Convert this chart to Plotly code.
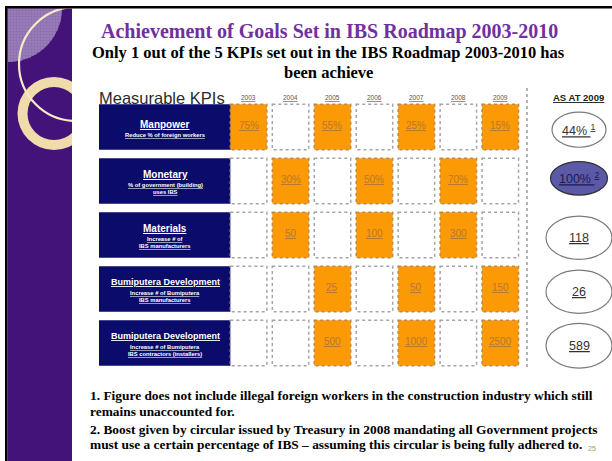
import math
import plotly.graph_objects as go

W, H = 612, 461

# ---------------- data ----------------
years = ["2003", "2004", "2005", "2006", "2007", "2008", "2009"]
kpi_titles = ["Manpower", "Monetary", "Materials",
              "Bumiputera Development", "Bumiputera Development"]
kpi_subtitles = [["Reduce % of foreign workers"],
                 ["% of government (building)", "uses IBS"],
                 ["Increase # of", "IBS manufacturers"],
                 ["Increase # of Bumiputera", "IBS manufacturers"],
                 ["Increase # of Bumiputera", "IBS contractors (installers)"]]
targets = [
    ["75%", "", "55%", "", "25%", "", "15%"],
    ["", "30%", "", "50%", "", "70%", ""],
    ["", "50", "", "100", "", "300", ""],
    ["", "", "25", "", "50", "", "150"],
    ["", "", "500", "", "1000", "", "2500"],
]
actual_2009 = ["44%", "100%", "118", "26", "589"]
actual_notes = ["1", "2", "", "", ""]

title = "Achievement of Goals Set in IBS Roadmap 2003-2010"
subtitle_lines = ["Only 1 out of the 5 KPIs set out in the IBS Roadmap 2003-2010 has",
                  "been achieve"]
footnotes = [
    "1. Figure does not include illegal foreign workers in the construction industry which still",
    "remains unaccounted for.",
    "2. Boost given by circular issued by Treasury in 2008 mandating all Government projects",
    "must use a certain percentage of IBS \u2013 assuming this circular is being fully adhered to.",
]
page_number = "25"

# ---------------- helpers ----------------
def px(x):
    return x / W

def py(y):
    return 1 - y / H

SANS = "Liberation Sans, Arial, sans-serif"
SERIF = "Liberation Serif, Times New Roman, serif"
ORANGE = "#fb9a05"
NAVY = "#0b0b6b"
PURPLE = "#44137a"

fig = go.Figure()
# invisible traces to create both subplots
fig.add_trace(go.Scatter(x=[0], y=[0], xaxis="x", yaxis="y", mode="markers",
                         marker=dict(opacity=0), hoverinfo="skip", showlegend=False))
fig.add_trace(go.Scatter(x=[30], y=[30], xaxis="x2", yaxis="y2", mode="markers",
                         marker=dict(opacity=0), hoverinfo="skip", showlegend=False))

shapes = []
ann = []

# ---------------- left decoration strip (pixel coordinates on x2/y2) ----------------
shapes.append(dict(type="rect", xref="x2", yref="y2", x0=0, x1=80, y0=0, y1=470,
                   fillcolor=PURPLE, line=dict(width=0), layer="below"))
# checkered quarter-disc patch in the corner
pr = 54
pts = []
n = 30
for k in range(n + 1):
    a = (math.pi / 2) * k / n
    pts.append((8 + pr * math.cos(a), 8 + pr * math.sin(a)))
path = "M 7,7 L 62,7 " + " ".join(f"L {x:.2f},{y:.2f}" for x, y in pts) + " L 7,62 Z"
shapes.append(dict(type="path", xref="x2", yref="y2", path=path,
                   fillcolor="#8a6dab", line=dict(width=0), layer="below"))
for k in range(9, 62, 3):
    h = math.sqrt(max(pr ** 2 - (k - 8) ** 2, 0))
    shapes.append(dict(type="line", xref="x2", yref="y2", x0=k, x1=k, y0=8, y1=8 + h,
                       line=dict(color="#a58cc2", width=0.6), layer="below"))
    shapes.append(dict(type="line", xref="x2", yref="y2", x0=8, x1=8 + h, y0=k, y1=k,
                       line=dict(color="#a58cc2", width=0.6), layer="below"))
# thick ring
shapes.append(dict(type="circle", xref="x2", yref="y2", x0=54 - 36.5, x1=54 + 36.5,
                   y0=113.5 - 36.5, y1=113.5 + 36.5, fillcolor="#f0dcaa",
                   line=dict(width=0), layer="below"))
shapes.append(dict(type="circle", xref="x2", yref="y2", x0=54 - 26.5, x1=54 + 26.5,
                   y0=113.5 - 26.5, y1=113.5 + 26.5, fillcolor=PURPLE,
                   line=dict(width=0), layer="below"))
# thin circle
cx, cy, r = 76, 64, 57
shapes.append(dict(type="circle", xref="x2", yref="y2", x0=cx - r, x1=cx + r,
                   y0=cy - r, y1=cy + r, line=dict(color="#f6e9c8", width=2.2),
                   layer="below"))

# black frame lines
shapes.append(dict(type="rect", xref="paper", yref="paper", x0=px(5), x1=px(7.5),
                   y0=0, y1=py(6), fillcolor="black", line=dict(width=0)))
shapes.append(dict(type="rect", xref="paper", yref="paper", x0=px(5), x1=1,
                   y0=py(8.5), y1=py(6), fillcolor="black", line=dict(width=0)))

# ---------------- titles ----------------
ann.append(dict(text=f"<b>{title}</b>", xref="paper", yref="paper", x=px(329), y=py(32),
                showarrow=False, font=dict(family=SERIF, size=20, color="#7030a0"),
                xanchor="center", yanchor="middle"))
for k, line in enumerate(subtitle_lines):
    ann.append(dict(text=f"<b>{line}</b>", xref="paper", yref="paper", x=px(328),
                    y=py(53 + 19 * k), showarrow=False,
                    font=dict(family=SERIF, size=16.5, color="black"),
                    xanchor="center", yanchor="middle"))

# ---------------- table header ----------------
ann.append(dict(text="Measurable KPIs", xref="paper", yref="paper", x=px(97), y=py(98),
                showarrow=False, font=dict(family=SANS, size=16.5, color="#2b2b2b"),
                xanchor="left", yanchor="middle"))
for i, yr in enumerate(years):
    ann.append(dict(text=f"<u>{yr}</u>", xref="x", yref="paper", x=i, y=py(97),
                    showarrow=False, font=dict(family=SANS, size=6.5, color="#555"),
                    xanchor="center", yanchor="middle"))
ann.append(dict(text="<b><u>AS AT 2009</u></b>", xref="paper", yref="paper", x=px(578),
                y=py(97), showarrow=False, font=dict(family=SANS, size=9.5, color="#222"),
                xanchor="center", yanchor="middle"))

# dotted separator
shapes.append(dict(type="line", xref="paper", yref="paper", x0=px(527), x1=px(527),
                   y0=py(88), y1=py(370), line=dict(color="#9a9a9a", width=1.5, dash="dot")))

# ---------------- KPI boxes ----------------
for j, (t, subs) in enumerate(zip(kpi_titles, kpi_subtitles)):
    shapes.append(dict(type="rect", xref="paper", yref="y", x0=px(99), x1=px(231),
                       y0=j - 0.42, y1=j + 0.42, fillcolor=NAVY, line=dict(width=0)))
    nlines = len(subs)
    tsize = 10 if len(t) < 12 else 9
    ann.append(dict(text=f"<b><u>{t}</u></b>", xref="paper", yref="y", x=px(165), y=j,
                    yshift=(3 if nlines == 1 else 7), showarrow=False,
                    font=dict(family=SANS, size=tsize, color="white"),
                    xanchor="center", yanchor="middle"))
    for m, s in enumerate(subs):
        base = -8 if nlines == 1 else -3.5
        ann.append(dict(text=f"<b><u>{s}</u></b>", xref="paper", yref="y", x=px(165), y=j,
                        yshift=base - 7.5 * m, showarrow=False,
                        font=dict(family=SANS, size=5.8, color="white"),
                        xanchor="center", yanchor="middle"))

# ---------------- target cells ----------------
for j, row in enumerate(targets):
    for i, val in enumerate(row):
        filled = val != ""
        shapes.append(dict(type="rect", xref="x", yref="y", x0=i - 0.435, x1=i + 0.435,
                           y0=j - 0.42, y1=j + 0.42,
                           fillcolor=ORANGE if filled else "white",
                           line=dict(color="#b98a4a" if filled else "#a5a5a5",
                                     width=1.5, dash="dot")))
        if filled:
            ann.append(dict(text=f"<u>{val}</u>", xref="x", yref="y", x=i, y=j,
                            yshift=2, showarrow=False,
                            font=dict(family=SANS, size=10, color="#b8782e"),
                            xanchor="center", yanchor="middle"))

# ---------------- 2009 ovals ----------------
oval_w = [54, 57, 66, 66, 66]
oval_h = [0.65, 0.62, 0.80, 0.80, 0.83]
oval_dy = [0.05, -0.05, 0.05, 0.05, 0.05]
for j, (v, note) in enumerate(zip(actual_2009, actual_notes)):
    hi = j == 1
    shapes.append(dict(type="circle", xref="paper", yref="y",
                       x0=px(579 - oval_w[j] / 2), x1=px(579 + oval_w[j] / 2),
                       y0=j + oval_dy[j] - oval_h[j] / 2, y1=j + oval_dy[j] + oval_h[j] / 2,
                       fillcolor="#5c5aa6" if hi else "white",
                       line=dict(color="#333" if hi else "#7a7a7a", width=1.2)))
    label = v + (f" <sup>{note}</sup>" if note else "")
    ann.append(dict(text=f"<u>{label}</u>", xref="paper", yref="y", x=px(579),
                    y=j + oval_dy[j], showarrow=False,
                    font=dict(family=SANS, size=12.5, color="#1a1a55" if hi else "#333"),
                    xanchor="center", yanchor="middle"))

# ---------------- footnotes ----------------
foot_y = [395, 411, 429, 444]
for line, yy in zip(footnotes, foot_y):
    ann.append(dict(text=f"<b>{line}</b>", xref="paper", yref="paper", x=px(88), y=py(yy),
                    showarrow=False, font=dict(family=SERIF, size=13.4, color="black"),
                    xanchor="left", yanchor="middle"))
ann.append(dict(text=page_number, xref="paper", yref="paper", x=px(592), y=py(448),
                showarrow=False, font=dict(family=SANS, size=7, color="#a89060"),
                xanchor="center", yanchor="middle"))

x_lo = (248.6 - 0.5 * 41.95) / W
x_hi = (500.3 + 0.5 * 41.95) / W
y_top = 1 - 100 / H
y_bot = 1 - 370 / H

fig.update_layout(
    width=W, height=H, margin=dict(l=0, r=0, t=0, b=0),
    paper_bgcolor="white", plot_bgcolor="rgba(0,0,0,0)",
    showlegend=False,
    xaxis=dict(domain=[x_lo, x_hi], range=[-0.5, 6.5], visible=False, anchor="y"),
    yaxis=dict(domain=[y_bot, y_top], range=[4.5, -0.5], visible=False, anchor="x"),
    xaxis2=dict(domain=[px(7.5), px(72)], range=[7.5, 72], visible=False, anchor="y2"),
    yaxis2=dict(domain=[0, py(8.5)], range=[461, 8.5], visible=False, anchor="x2"),
    shapes=shapes, annotations=ann,
)

fig.write_html("out.html")
